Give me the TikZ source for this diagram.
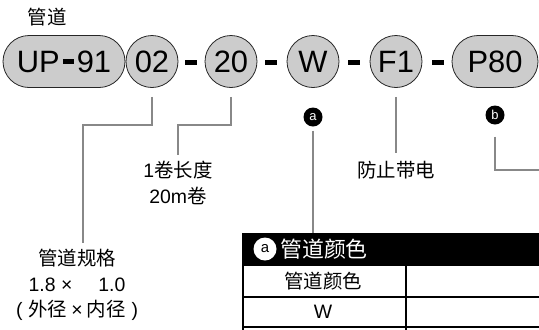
\documentclass[tikz,border=0pt]{standalone}
\usepackage{fontspec}
\setmainfont{Liberation Sans}
\newfontfamily\cjk{Noto Sans CJK SC}
\newcommand{\zh}[1]{{\cjk #1}}
\definecolor{gris}{RGB}{204,204,204}
\definecolor{lineagris}{RGB}{136,136,136}
\tikzset{
  pieza/.style={draw=black!85, line width=0.8bp, fill=gris, circle,
    minimum size=52bp, inner sep=0pt, font=\fontsize{31}{31}\selectfont},
  capsula/.style={pieza, rectangle, rounded corners=26bp, minimum height=52bp},
  guion/.style={fill=black, minimum width=12bp, minimum height=5bp, inner sep=0pt},
  marca/.style={circle, fill=black, text=white, minimum size=19bp, inner sep=0pt,
    font=\fontsize{13}{13}\selectfont},
  guia/.style={draw=lineagris, line width=2.2bp},
  texto/.style={align=center, inner sep=0pt, font=\fontsize{19.5}{25.5}\selectfont}
}

\begin{document}
\begin{tikzpicture}[x=1bp,y=-1bp]
        % Recorta el marco del dibujo.
        \clip (0,0) rectangle (539,329);

        % Titulo superior.
        \node[inner sep=0pt, font=\fontsize{19.5}{19.5}\selectfont] (titulo) at (47,17) {\zh{管道}};

        % Piezas del codigo y guiones entre ellas.
        \node[capsula, minimum width=122bp] (up) at (64,61.5)
            {UP\hspace{3bp}\rule[8bp]{11bp}{5bp}\hspace{3bp}91};
        \node[pieza] (c02) at (152,61.5) {02};
        \node[guion] (g1) at (191,62) {};
        \node[pieza] (c20) at (231,61.5) {20};
        \node[guion] (g2) at (271,62) {};
        \node[pieza] (cW) at (313,61.5) {W};
        \node[guion] (g3) at (354,62) {};
        \node[pieza] (cF) at (396,61.5) {F1};
        \node[guion] (g4) at (438,62) {};
        \node[capsula, minimum width=86bp] (cP) at (495,61.5) {P80};

        % Marcas a y b.
        \node[marca] (ma) at (313,117) {a};
        \node[marca] (mb) at (495,115) {b};

        % Textos explicativos.
        \node[texto] (largo) at (178,183) {1\zh{卷长度}\\20m\zh{卷}};
        \node[texto] (medida) at (77,285)
            {\zh{管道规格}\\1.8 ×\hspace{26bp}1.0\\
             (\hspace{6bp}\zh{外径}\hspace{4bp}×\hspace{4bp}\zh{内径}\hspace{6bp})};
        \node[texto] (anti) at (396,170) {\zh{防止带电}};

        % Cabecera de la tabla a.
        \node[fill=black, minimum width=340bp, minimum height=32bp, inner sep=0pt,
            anchor=north west] (cab) at (243,233) {};
        \node[circle, fill=white, minimum size=23bp, inner sep=0pt,
            font=\fontsize{15}{15}\selectfont] (ma2) at (265,249) {a};
        \node[anchor=west, text=white, inner sep=0pt,
            font=\fontsize{22}{22}\selectfont] (cabtxt) at (280,249) {\zh{管道颜色}};

        % Filas de la tabla.
        \draw[line width=1.1bp] (243,265) rectangle (600,297);
        \draw[line width=1.1bp] (243,297) rectangle (600,327);
        \draw[line width=1.1bp] (243,327) rectangle (600,360);
        \draw[line width=1.1bp] (406,265) -- (406,360);
        \draw[line width=2.2bp] (243,233) -- (243,360);
        \node[texto] (fila1) at (323,281) {\zh{管道颜色}};
        \node[texto] (fila2) at (323,312) {W};

        % Puntos finales de las lineas guia.
        \coordinate (e02) at (83,243);
        \coordinate (e20) at (178,155);
        \coordinate (eb) at (545,170);

        % Lineas guia.
        \draw[guia] ([yshift=-9bp]c02.south) -- ++(0,28) -| (e02);
        \draw[guia] ([yshift=-9bp]c20.south) -- ++(0,28) -| (e20);
        \draw[guia] ([yshift=-9bp]cF.south) -- ++(0,56);
        \draw[guia] ([yshift=-4bp]ma.south) -- (ma |- cab.north);
        \draw[guia] ([yshift=-12bp]mb.south) |- (eb);
\end{tikzpicture}
\end{document}
